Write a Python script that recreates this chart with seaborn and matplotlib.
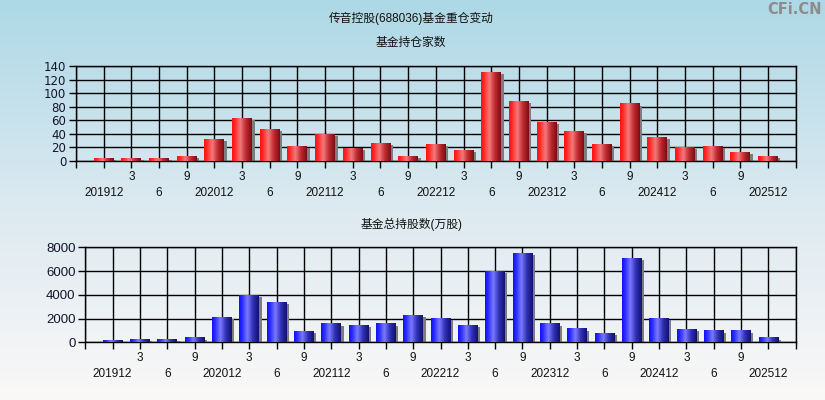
import numpy as np
import pandas as pd
import seaborn as sns
import matplotlib
matplotlib.use("Agg")
import matplotlib.pyplot as plt
from matplotlib.colors import LinearSegmentedColormap
from matplotlib.patches import Rectangle
import matplotlib.transforms as mtransforms

# ---------------- data ----------------
quarters = ["201912", "202003", "202006", "202009",
            "202012", "202103", "202106", "202109",
            "202112", "202203", "202206", "202209",
            "202212", "202303", "202306", "202309",
            "202312", "202403", "202406", "202409",
            "202412", "202503", "202506", "202509",
            "202512"]
tick_labels = ["201912", "3", "6", "9",
               "202012", "3", "6", "9",
               "202112", "3", "6", "9",
               "202212", "3", "6", "9",
               "202312", "3", "6", "9",
               "202412", "3", "6", "9",
               "202512"]
fund_count = [3, 4, 4, 6, 32, 62, 47, 21, 39, 18, 26, 6,
              24, 16, 130, 87, 57, 44, 25, 84, 35, 20, 21, 13, 6]
fund_shares = [110, 200, 200, 360, 2050, 3900, 3310, 870, 1540, 1380, 1540, 2220,
               1990, 1380, 5950, 7440, 1540, 1120, 700, 7020, 1990, 1040, 950, 950, 360]
title = "传音控股(688036)基金重仓变动"
sub1 = "基金持仓家数"
sub2 = "基金总持股数(万股)"

sns.set_theme(style="white")
plt.rcParams["font.family"] = ["Liberation Sans", "Noto Sans CJK SC", "DejaVu Sans"]

W, H = 825, 400
fig = plt.figure(figsize=(W / 100, H / 100), dpi=100)

# background gradient
bg = fig.add_axes([0, 0, 1, 1], zorder=-10)
cmap_bg = LinearSegmentedColormap.from_list("bg", ["#add8e6", "#dbe9f0", "#fbf8f8"])
bg.imshow(np.linspace(0, 1, 256)[:, None], aspect="auto", cmap=cmap_bg,
          extent=[0, 1, 0, 1], origin="upper")
bg.set_axis_off()

red_cmap = LinearSegmentedColormap.from_list(
    "red", [(0, "#ff1010"), (0.15, "#ff2a2a"), (0.42, "#f27a7a"), (0.7, "#c02a30"), (1, "#7a0d12")])
blue_cmap = LinearSegmentedColormap.from_list(
    "blue", [(0, "#1010ff"), (0.15, "#2a2aff"), (0.42, "#7a7aff"), (0.7, "#3030b8"), (1, "#12126e")])


def draw_panel(rect, values, ymax, ystep, cmap, ylab_size, ylab_font):
    ax = fig.add_axes(rect)
    ax.patch.set_alpha(0)
    df = pd.DataFrame({"q": quarters, "v": values})
    sns.barplot(data=df, x="q", y="v", ax=ax, width=0.72, color="red",
                saturation=1, errorbar=None)
    grad = np.linspace(0, 1, 64)[None, :]
    for p in list(ax.patches):
        x0, w, h = p.get_x(), p.get_width(), p.get_height()
        shadow_tr = ax.transData + mtransforms.ScaledTranslation(2.5 / 100, -1.5 / 100, fig.dpi_scale_trans)
        ax.add_patch(Rectangle((x0, 0), w, h, transform=shadow_tr,
                               facecolor="#7d7d7d", edgecolor="none", zorder=2))
        ax.imshow(grad, extent=[x0, x0 + w, 0, h], aspect="auto", cmap=cmap,
                  zorder=3, interpolation="bilinear")
        p.set_visible(False)
    ax.set_xlim(-1, len(quarters))
    ax.set_ylim(0, ymax)
    ax.set_xticks(range(-1, len(quarters) + 1))
    labs = [""] + [("\n" + t) if i % 2 == 0 else t for i, t in enumerate(tick_labels)] + [""]
    ax.set_xticklabels(labs, fontsize=8.5, color="#111111")
    for lbl in ax.get_xticklabels():
        lbl.set_linespacing(1.45)
    ax.set_yticks(np.arange(0, ymax + 1, ystep))
    ax.set_yticklabels([str(int(v)) for v in np.arange(0, ymax + 1, ystep)],
                       fontsize=ylab_size, color="#15152a", family=ylab_font)
    ax.grid(True, color="black", lw=1)
    ax.set_axisbelow(True)
    ax.tick_params(axis="both", direction="out", length=5, width=1, color="black",
                   bottom=True, left=True, pad=2)
    for s in ax.spines.values():
        s.set_color("black")
        s.set_linewidth(1)
    ax.set_xlabel("")
    ax.set_ylabel("")
    return ax


ax1 = draw_panel([76 / W, 1 - 161 / H, (795.7 - 76) / W, 95 / H], fund_count, 140, 20,
                 red_cmap, 8.5, ["DejaVu Sans"])
ax2 = draw_panel([85.3 / W, 1 - 342.3 / H, (795.7 - 85.3) / W, 95 / H], fund_shares, 8000, 2000,
                 blue_cmap, 9.5, ["Liberation Sans"])

fig.text(0.4988, 1 - 18 / H, title, ha="center", va="center", fontsize=8.5, color="#111111")
fig.text(0.4985, 1 - 43 / H, sub1, ha="center", va="center", fontsize=8.5, color="#111111")
fig.text(0.4985, 1 - 224 / H, sub2, ha="center", va="center", fontsize=8.5, color="#111111")
fig.text(822 / W, 1 - 10 / H, "CFi.CN", ha="right", va="center", fontsize=10.5,
         color="#8c8c8c", fontweight="bold", family=["DejaVu Sans"])

fig.savefig("out.png", dpi=100)
